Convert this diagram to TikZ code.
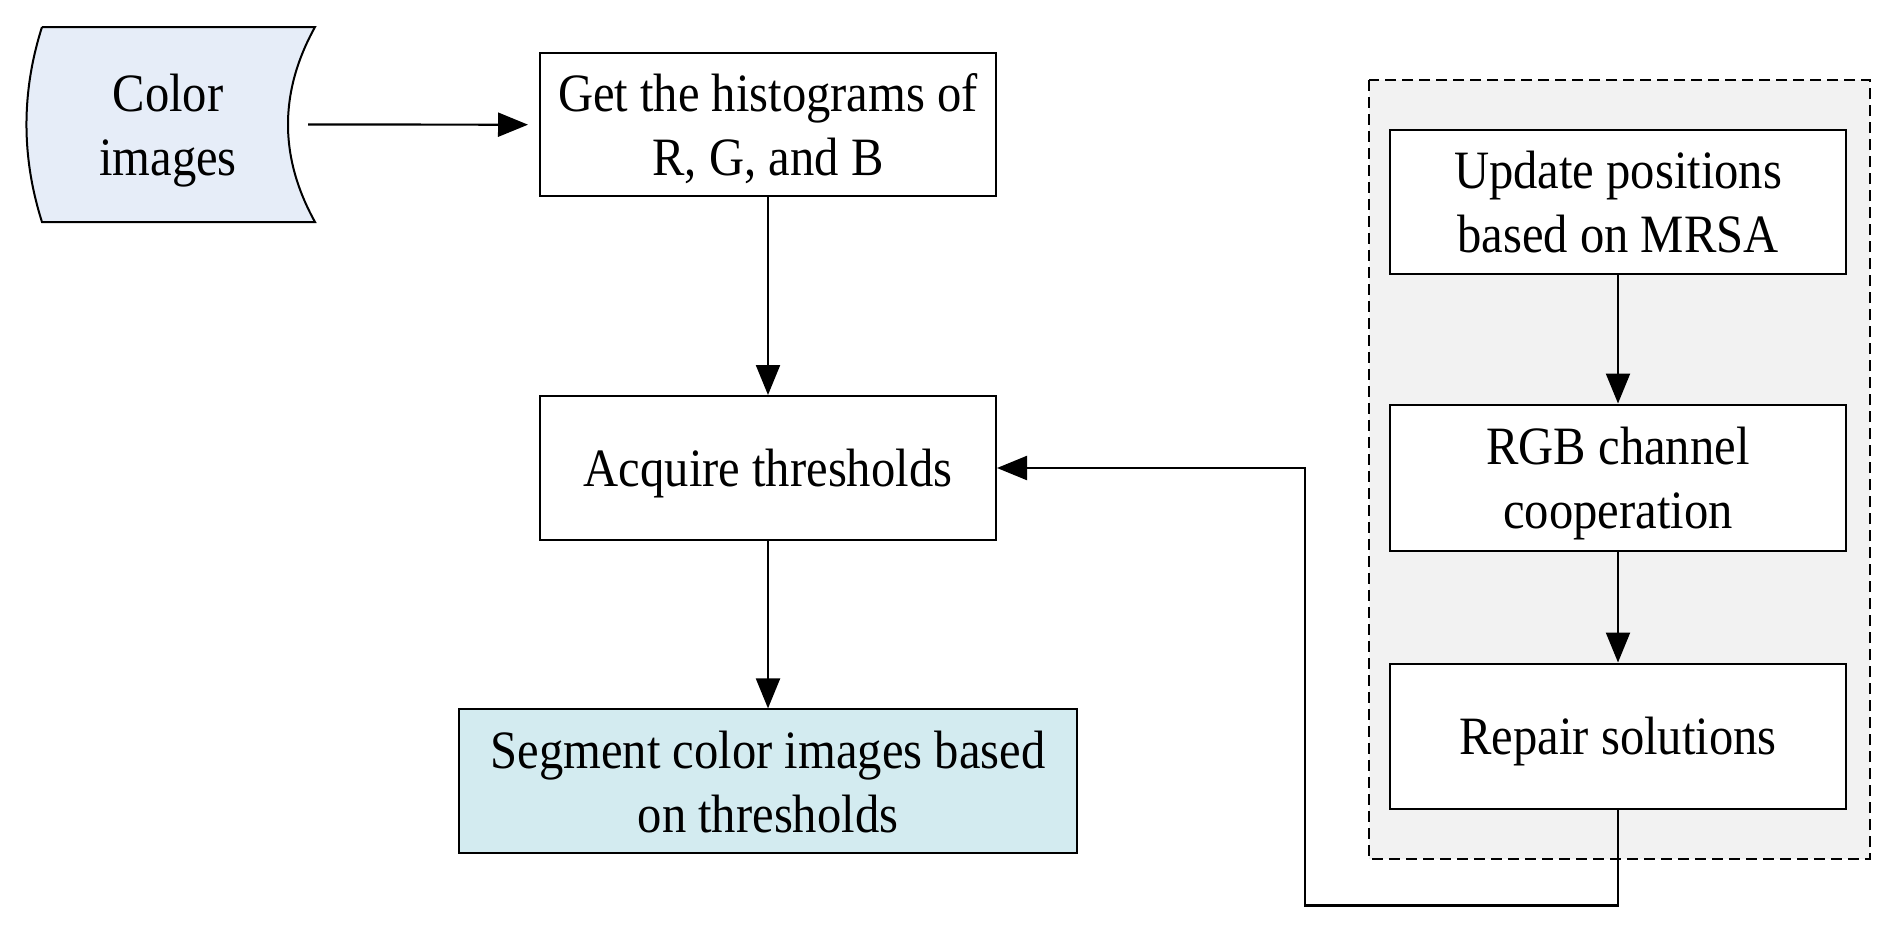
\documentclass[tikz,border=0pt]{standalone}
\usepackage{fontspec}
\setmainfont{Liberation Serif}[FakeStretch=0.9]
\usetikzlibrary{arrows.meta}
\definecolor{cifill}{HTML}{E6EDF8}
\definecolor{segfill}{HTML}{D3EBF0}
\definecolor{grpfill}{HTML}{F2F2F2}
\tikzset{
  txt/.style={align=center, inner sep=0pt, text depth=0pt, font=\fontsize{54}{64}\selectfont},
  box/.style={txt, draw=black, line width=2pt, fill=white},
  conn/.style={line width=2.2pt, -{Triangle[length=30pt,width=24pt]}},
}
\begin{document}
\begin{tikzpicture}[x=1pt,y=-1pt]
\useasboundingbox (0,0) rectangle (1898,937);
% container
\draw[dashed, dash pattern=on 11pt off 6pt, line width=2pt, fill=grpfill] (1369,80) rectangle (1870,859);
% color images
\draw[line width=2pt, fill=cifill] (42,27) -- (315,27) .. controls (279,92) and (279,157) .. (315,222)
  -- (42,222) .. controls (21.3,157) and (21.3,92) .. (42,27);
\node[txt, minimum width=280pt, minimum height=195pt] (ci) at (168,124.5) {Color\\images};
\node[box, minimum width=456pt, minimum height=143pt] (hist) at (768,124.7) {Get the histograms of\\R, G, and B};
\node[box, minimum width=456pt, minimum height=144pt] (acq) at (768,468) {Acquire thresholds};
\node[box, fill=segfill, minimum width=618pt, minimum height=144pt] (seg) at (768,781.4) {Segment color images based\\on thresholds};
\node[box, minimum width=456pt, minimum height=144pt] (upd) at (1618,201.5) {Update positions\\based on MRSA};
\node[box, minimum width=456pt, minimum height=146pt] (rgb) at (1618,477.5) {RGB channel\\cooperation};
\node[box, minimum width=456pt, minimum height=145pt] (rep) at (1618,736) {Repair solutions};
\coordinate (c1) at (1618,905.5);
\coordinate (c2) at (1305,905.5);
\coordinate (c3) at (1305,468);
\draw[conn, shorten >=11pt] (ci.east) -- (hist.west);
\draw[conn] (hist) -- (acq);
\draw[conn] (acq) -- (seg);
\draw[conn] (upd) -- (rgb);
\draw[conn] (rgb) -- (rep);
\draw[conn] (rep.south) -- (c1) -- (c2) -- (c3) -- (acq.east);
\end{tikzpicture}
\end{document}
